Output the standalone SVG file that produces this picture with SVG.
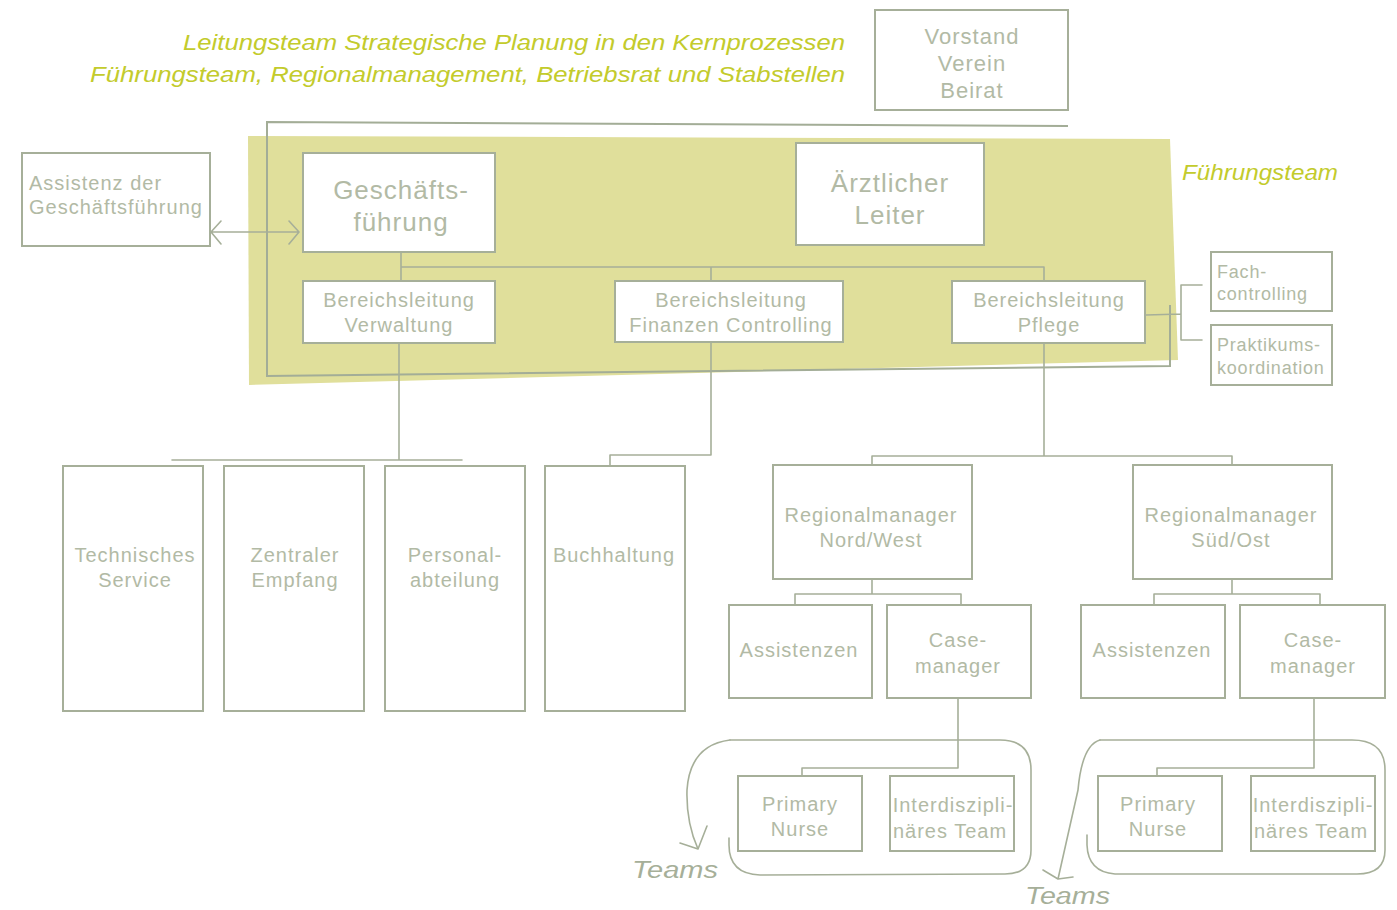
<svg xmlns="http://www.w3.org/2000/svg" width="1397" height="910" viewBox="0 0 1397 910">
<style>
.box{fill:#ffffff;stroke:#a6af99;stroke-width:2}
.t{fill:#b2baa5;font-family:"Liberation Sans",Arial,sans-serif;font-size:20px;letter-spacing:1px;text-anchor:middle}
.tl{text-anchor:start}
.big{font-size:26px}
.mid{font-size:22px}
.sm{font-size:18px;letter-spacing:0.8px}
.con{fill:none;stroke:#a6af99;stroke-width:1.6;stroke-linecap:round;stroke-linejoin:round}
.frame{fill:none;stroke:#a3ad97;stroke-width:2}
.hand{fill:#c3cb2c;font-family:"Liberation Sans",Arial,sans-serif;font-style:italic;font-size:22px}
.team{fill:#a6af99;font-family:"Liberation Sans",Arial,sans-serif;font-style:italic;font-size:23px}
</style>
<rect width="1397" height="910" fill="#ffffff"/>

<g id="handwriting">
<text class="hand" x="183" y="50" textLength="662" lengthAdjust="spacingAndGlyphs">Leitungsteam Strategische Planung in den Kernprozessen</text>
<text class="hand" x="90" y="82" textLength="755" lengthAdjust="spacingAndGlyphs">Führungsteam, Regionalmanagement, Betriebsrat und Stabstellen</text>
<text class="hand" x="1182" y="180" textLength="156" lengthAdjust="spacingAndGlyphs">Führungsteam</text>
</g>

<g id="fuehrungsteam-area">
<polygon points="248,136 1170,139 1178,360 249,385" fill="#e0df9b"/>
<path class="frame" d="M1068,126 L267,122 L267,376 L1170,366 L1170,305"/>
</g>

<g id="connectors">
<path class="con" d="M211,232 L299,232 M221,221 L211,232 L221,244 M289,221 L299,232 L289,244"/>
<path class="con" d="M401,252 L401,281 M401,267 L1044,267 M711,267 L711,281 M1044,267 L1044,281"/>
<path class="con" d="M1146,315 L1181,314 M1202,285 L1181,285 L1181,340 L1202,340"/>
<path class="con" d="M399,343 L399,460 M172,460 L462,460"/>
<path class="con" d="M711,342 L711,455 L610,455 L610,465"/>
<path class="con" d="M1044,343 L1044,456 M872,456 L1232,456 M872,456 L872,465 M1232,456 L1232,465"/>
<path class="con" d="M872,579 L872,594 M795,594 L961,594 M795,594 L795,605 M961,594 L961,605"/>
<path class="con" d="M1232,579 L1232,594 M1154,594 L1320,594 M1154,594 L1154,605 M1320,594 L1320,605"/>
<path class="con" d="M958,698 L958,768 L802,768 L802,776"/>
<path class="con" d="M1314,698 L1314,768 L1157,768 L1157,776"/>
</g>

<g id="teams-left">
<path class="con" d="M730,740 L1000,740 Q1031,740 1031,770 L1031,850 Q1031,874 1005,874 L760,875 Q729,874 729,845 L729,838"/>
<path class="con" d="M730,740 Q690,745 687,790 Q686,822 698,849 M707,826 L698,849 L680,843"/>
<text class="team" x="632" y="878" textLength="86" lengthAdjust="spacingAndGlyphs">Teams</text>
</g>
<g id="teams-right">
<path class="con" d="M1100,740 L1352,740 Q1385,740 1385,770 L1385,850 Q1385,874 1357,874 L1115,874 Q1088,872 1087,845 L1087,835"/>
<path class="con" d="M1100,740 Q1082,745 1078,790 L1058,879 M1043,870 L1058,879 L1073,877"/>
<text class="team" x="1025" y="904" textLength="85" lengthAdjust="spacingAndGlyphs">Teams</text>
</g>

<g id="vorstand"><rect class="box" x="875" y="10" width="193" height="100"/>
<text class="t mid" x="972" y="44">Vorstand</text><text class="t mid" x="972" y="71">Verein</text><text class="t mid" x="972" y="98">Beirat</text></g>

<g id="assistenz-gf"><rect class="box" x="22" y="153" width="188" height="93"/>
<text class="t tl" x="29" y="190">Assistenz der</text><text class="t tl" x="29" y="214">Geschäftsführung</text></g>

<g id="geschaeftsfuehrung"><rect class="box" x="303" y="153" width="192" height="99"/>
<text class="t big" x="401" y="199">Geschäfts-</text><text class="t big" x="401" y="231">führung</text></g>

<g id="aerztlicher-leiter"><rect class="box" x="796" y="143" width="188" height="102"/>
<text class="t big" x="890" y="192">Ärztlicher</text><text class="t big" x="890" y="224">Leiter</text></g>

<g id="bl-verwaltung"><rect class="box" x="303" y="281" width="192" height="62"/>
<text class="t" x="399" y="307">Bereichsleitung</text><text class="t" x="399" y="332">Verwaltung</text></g>

<g id="bl-finanzen"><rect class="box" x="615" y="281" width="228" height="61"/>
<text class="t" x="731" y="307">Bereichsleitung</text><text class="t" x="731" y="332">Finanzen Controlling</text></g>

<g id="bl-pflege"><rect class="box" x="952" y="281" width="193" height="62"/>
<text class="t" x="1049" y="307">Bereichsleitung</text><text class="t" x="1049" y="332">Pflege</text></g>

<g id="fachcontrolling"><rect class="box" x="1211" y="252" width="121" height="59"/>
<text class="t sm tl" x="1217" y="278">Fach-</text><text class="t sm tl" x="1217" y="300">controlling</text></g>

<g id="praktikumskoordination"><rect class="box" x="1211" y="325" width="121" height="60"/>
<text class="t sm tl" x="1217" y="351">Praktikums-</text><text class="t sm tl" x="1217" y="374">koordination</text></g>

<g id="technisches-service"><rect class="box" x="63" y="466" width="140" height="245"/>
<text class="t" x="135" y="562">Technisches</text><text class="t" x="135" y="587">Service</text></g>

<g id="zentraler-empfang"><rect class="box" x="224" y="466" width="140" height="245"/>
<text class="t" x="295" y="562">Zentraler</text><text class="t" x="295" y="587">Empfang</text></g>

<g id="personalabteilung"><rect class="box" x="385" y="466" width="140" height="245"/>
<text class="t" x="455" y="562">Personal-</text><text class="t" x="455" y="587">abteilung</text></g>

<g id="buchhaltung"><rect class="box" x="545" y="466" width="140" height="245"/>
<text class="t" x="614" y="562">Buchhaltung</text></g>

<g id="rm-nordwest"><rect class="box" x="773" y="465" width="199" height="114"/>
<text class="t" x="871" y="522">Regionalmanager</text><text class="t" x="871" y="547">Nord/West</text></g>

<g id="rm-suedost"><rect class="box" x="1133" y="465" width="199" height="114"/>
<text class="t" x="1231" y="522">Regionalmanager</text><text class="t" x="1231" y="547">Süd/Ost</text></g>

<g id="assistenzen-1"><rect class="box" x="729" y="605" width="143" height="93"/>
<text class="t" x="799" y="657">Assistenzen</text></g>

<g id="casemanager-1"><rect class="box" x="887" y="605" width="144" height="93"/>
<text class="t" x="958" y="647">Case-</text><text class="t" x="958" y="673">manager</text></g>

<g id="assistenzen-2"><rect class="box" x="1081" y="605" width="144" height="93"/>
<text class="t" x="1152" y="657">Assistenzen</text></g>

<g id="casemanager-2"><rect class="box" x="1240" y="605" width="145" height="93"/>
<text class="t" x="1313" y="647">Case-</text><text class="t" x="1313" y="673">manager</text></g>

<g id="primary-nurse-1"><rect class="box" x="738" y="776" width="124" height="75"/>
<text class="t" x="800" y="811">Primary</text><text class="t" x="800" y="836">Nurse</text></g>

<g id="interdisziplinaer-1"><rect class="box" x="890" y="776" width="124" height="75"/>
<text class="t" x="953" y="812">Interdiszipli-</text><text class="t" x="950" y="838">näres Team</text></g>

<g id="primary-nurse-2"><rect class="box" x="1098" y="776" width="124" height="75"/>
<text class="t" x="1158" y="811">Primary</text><text class="t" x="1158" y="836">Nurse</text></g>

<g id="interdisziplinaer-2"><rect class="box" x="1251" y="776" width="124" height="75"/>
<text class="t" x="1313" y="812">Interdiszipli-</text><text class="t" x="1311" y="838">näres Team</text></g>
</svg>
